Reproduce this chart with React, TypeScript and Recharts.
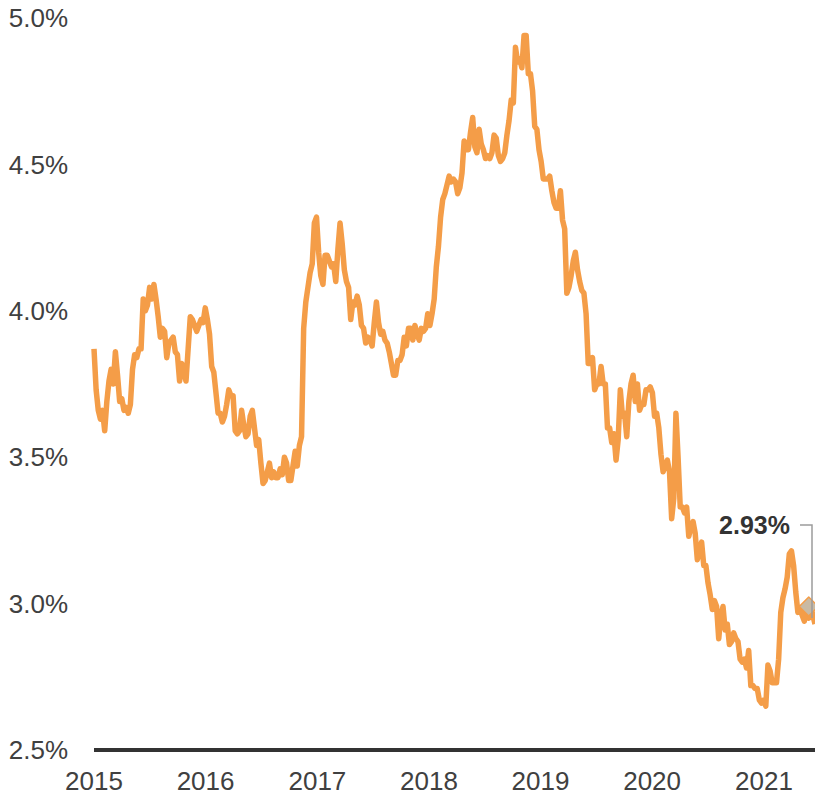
import { LineChart, Line, XAxis, YAxis, ReferenceDot } from "recharts";

// weekly 30-year fixed mortgage rate, %
const rates2015 = [
  3.87, 3.73, 3.66, 3.63, 3.66, 3.59, 3.69, 3.76, 3.8, 3.75, 3.86, 3.78, 3.69,
  3.7, 3.66, 3.67, 3.65, 3.68, 3.8, 3.85, 3.84, 3.87, 3.87, 4.04, 4.0, 4.02,
  4.08, 4.04, 4.09, 4.04, 3.98, 3.91, 3.94, 3.93, 3.84, 3.89, 3.9, 3.91, 3.86,
  3.85, 3.76, 3.82, 3.79, 3.76, 3.87, 3.98, 3.97, 3.95, 3.93, 3.95, 3.97, 3.96,
  4.01,
];
const rates2016 = [
  3.97, 3.92, 3.81, 3.79, 3.72, 3.65, 3.65, 3.62, 3.64, 3.68, 3.73, 3.71, 3.71,
  3.59, 3.58, 3.59, 3.66, 3.61, 3.57, 3.58, 3.64, 3.66, 3.6, 3.54, 3.56, 3.48,
  3.41, 3.42, 3.45, 3.48, 3.43, 3.45, 3.43, 3.43, 3.46, 3.44, 3.5, 3.48, 3.42,
  3.42, 3.47, 3.52, 3.47, 3.54, 3.57, 3.94, 4.03, 4.08, 4.13, 4.16, 4.3, 4.32,
];
const rates2017 = [
  4.2, 4.12, 4.09, 4.19, 4.19, 4.17, 4.15, 4.16, 4.1, 4.21, 4.3, 4.23, 4.14,
  4.1, 4.08, 3.97, 4.03, 4.02, 4.05, 4.02, 3.95, 3.94, 3.89, 3.91, 3.9, 3.88,
  3.96, 4.03, 3.96, 3.92, 3.93, 3.9, 3.89, 3.86, 3.82, 3.78, 3.78, 3.83, 3.83,
  3.85, 3.91, 3.88, 3.94, 3.94, 3.9, 3.95, 3.92, 3.9, 3.94, 3.93, 3.94, 3.99,
];
const rates2018 = [
  3.95, 3.99, 4.04, 4.15, 4.22, 4.32, 4.38, 4.4, 4.43, 4.46, 4.44, 4.45, 4.44,
  4.4, 4.42, 4.47, 4.58, 4.55, 4.55, 4.61, 4.66, 4.56, 4.54, 4.62, 4.57, 4.55,
  4.52, 4.53, 4.52, 4.54, 4.6, 4.59, 4.53, 4.51, 4.52, 4.54, 4.6, 4.65, 4.72,
  4.71, 4.9, 4.85, 4.86, 4.83, 4.94, 4.94, 4.81, 4.81, 4.75, 4.63, 4.62, 4.55,
];
const rates2019 = [
  4.51, 4.45, 4.45, 4.45, 4.46, 4.41, 4.37, 4.35, 4.35, 4.41, 4.31, 4.28, 4.06,
  4.08, 4.12, 4.17, 4.2, 4.14, 4.1, 4.07, 4.06, 3.99, 3.82, 3.82, 3.84, 3.73,
  3.75, 3.75, 3.81, 3.75, 3.75, 3.6, 3.6, 3.55, 3.58, 3.49, 3.56, 3.73, 3.64,
  3.65, 3.57, 3.69, 3.75, 3.78, 3.69, 3.75, 3.66, 3.68, 3.68, 3.73, 3.73, 3.74,
];
const rates2020 = [
  3.72, 3.64, 3.65, 3.6, 3.51, 3.45, 3.47, 3.49, 3.45, 3.29, 3.36, 3.65, 3.5,
  3.33, 3.33, 3.31, 3.33, 3.23, 3.26, 3.28, 3.24, 3.15, 3.18, 3.21, 3.13, 3.13,
  3.07, 3.03, 2.98, 3.01, 2.99, 2.88, 2.96, 2.99, 2.91, 2.93, 2.86, 2.87, 2.9,
  2.88, 2.87, 2.81, 2.8, 2.81, 2.78, 2.84, 2.72, 2.72, 2.71, 2.71, 2.67, 2.66,
  2.67,
];
const rates2021 = [
  2.65, 2.79, 2.77, 2.73, 2.73, 2.73, 2.81, 2.97, 3.02, 3.05, 3.09, 3.17, 3.18,
  3.13, 3.04, 2.97, 2.98, 2.96, 2.94, 3.0, 2.95, 2.99, 2.96, 2.93,
];

const firstWeek = "2015-01-01";
const yearTicks = [2015, 2016, 2017, 2018, 2019, 2020, 2021];
const rateTicks = [2.5, 3.0, 3.5, 4.0, 4.5, 5.0];

const DAY = 86400000;
const allRates = [
  ...rates2015, ...rates2016, ...rates2017, ...rates2018,
  ...rates2019, ...rates2020, ...rates2021,
];
const start = Date.parse(firstWeek);
const data = allRates.map((rate, i) => ({ date: start + i * 7 * DAY, rate }));
const last = data[data.length - 1];
const marked = data[data.length - 3];

const FONT = "'Liberation Sans', Arial, sans-serif";
const ORANGE = "#f49d48";

function EndLabel({ cx = 0, cy = 0 }: { cx?: number; cy?: number }) {
  return (
    <g>
      <polyline
        points={`${cx - 15},${cy - 99} ${cx - 3},${cy - 99} ${cx - 3},${cy - 6}`}
        fill="none"
        stroke="#9c9c9c"
        strokeWidth={1.5}
      />
      <text
        x={cx - 25}
        y={cy - 99}
        dy="0.36em"
        textAnchor="end"
        fontFamily={FONT}
        fontWeight="bold"
        fontSize={25}
        fill="#333"
      >
        {`${last.rate.toFixed(2)}%`}
      </text>
    </g>
  );
}

function Diamond({ cx = 0, cy = 0 }: { cx?: number; cy?: number }) {
  const r = 9.5;
  const x = cx - 2;
  return (
    <polygon
      points={`${x},${cy - r} ${x + r},${cy} ${x},${cy + r} ${x - r},${cy}`}
      fill="#c9baa4"
      stroke={ORANGE}
      strokeWidth={1.5}
      strokeLinejoin="round"
    />
  );
}

export default function App() {
  return (
    <div style={{ position: "absolute", left: 0, top: 0 }}>
      <LineChart
        width={815}
        height={796}
        data={data}
        margin={{ top: 18, right: 0, bottom: 0, left: 0 }}
      >
        <XAxis
          dataKey="date"
          type="number"
          scale="time"
          domain={[start, last.date]}
          ticks={yearTicks.map((y) => Date.UTC(y, 0, 1))}
          tickFormatter={(v: number) => String(new Date(v).getUTCFullYear())}
          tickLine={false}
          tickMargin={16}
          height={46}
          axisLine={{ stroke: "#333", strokeWidth: 4 }}
          tick={{ fontFamily: FONT, fontSize: 26, fill: "#404040" }}
        />
        <YAxis
          type="number"
          domain={[2.5, 5]}
          ticks={rateTicks}
          tickFormatter={(v: number) => `${v.toFixed(1)}%`}
          width={94}
          axisLine={false}
          tickLine={false}
          tickMargin={20}
          tick={{ fontFamily: FONT, fontSize: 26, fill: "#404040" }}
        />
        <Line
          type="linear"
          dataKey="rate"
          stroke={ORANGE}
          strokeWidth={5.5}
          strokeLinejoin="round"
          dot={false}
          isAnimationActive={false}
        />
        <ReferenceDot x={marked.date} y={marked.rate} shape={<Diamond />} />
        <ReferenceDot x={last.date} y={last.rate} shape={<EndLabel />} />
      </LineChart>
    </div>
  );
}
